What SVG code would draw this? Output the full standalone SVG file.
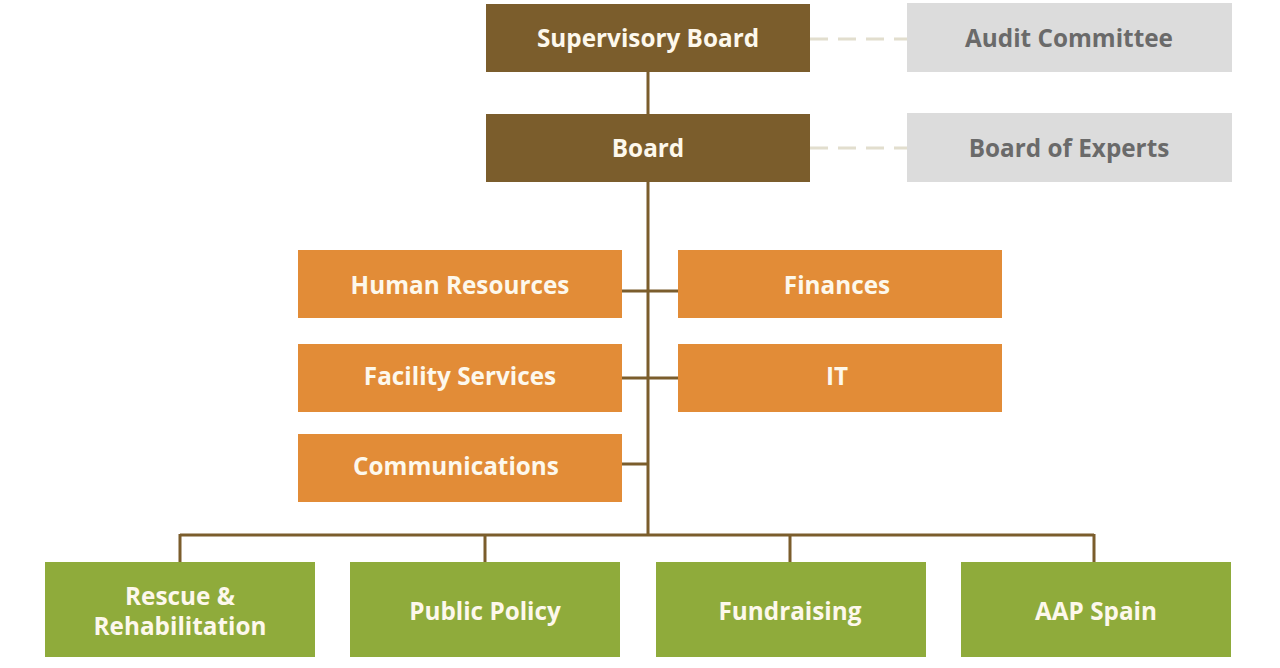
<svg xmlns="http://www.w3.org/2000/svg" width="1280" height="668" viewBox="0 0 1280 668">
<style>
.t{font-family:"Open Sans","Noto Sans","Liberation Sans",sans-serif;font-weight:700;font-size:24.3px;text-anchor:middle;dominant-baseline:central}
.w{fill:#fdf8ec}
.g{fill:#6a6a6a}
.brown{fill:#7b5d2c}
.orange{fill:#e28c37}
.green{fill:#8fab3b}
.gray{fill:#dcdcdc}
.ln{stroke:#7b5d2c;stroke-width:3;fill:none}
.dash{stroke:#e2dece;stroke-width:3;fill:none;stroke-dasharray:18 10}
</style>
<rect width="1280" height="668" fill="#ffffff"/>
<g id="connectors">
<path class="ln" d="M648 72V114M648 182V535M180 535H1094M180 534V562M485 534V562M790 534V562M1094 534V562M622 291H678M622 378H678M622 464H648"/>
<path class="dash" d="M810 39H907M810 148H907"/>
</g>
<g id="supervisory-board"><rect class="brown" x="486" y="4" width="324" height="68"/><text class="t w" x="648" y="37">Supervisory Board</text></g>
<g id="board"><rect class="brown" x="486" y="114" width="324" height="68"/><text class="t w" x="648" y="147">Board</text></g>
<g id="audit-committee"><rect class="gray" x="907" y="3" width="325" height="69"/><text class="t g" x="1069" y="37">Audit Committee</text></g>
<g id="board-of-experts"><rect class="gray" x="907" y="113" width="325" height="69"/><text class="t g" x="1069" y="147">Board of Experts</text></g>
<g id="human-resources"><rect class="orange" x="298" y="250" width="324" height="68"/><text class="t w" x="460" y="284">Human Resources</text></g>
<g id="finances"><rect class="orange" x="678" y="250" width="324" height="68"/><text class="t w" x="837" y="284">Finances</text></g>
<g id="facility-services"><rect class="orange" x="298" y="344" width="324" height="68"/><text class="t w" x="460" y="375">Facility Services</text></g>
<g id="it"><rect class="orange" x="678" y="344" width="324" height="68"/><text class="t w" x="837" y="375">IT</text></g>
<g id="communications"><rect class="orange" x="298" y="434" width="324" height="68"/><text class="t w" x="456" y="465">Communications</text></g>
<g id="rescue"><rect class="green" x="45" y="562" width="270" height="95"/><text class="t w" x="180" y="595">Rescue &amp;</text><text class="t w" x="180" y="625">Rehabilitation</text></g>
<g id="public-policy"><rect class="green" x="350" y="562" width="270" height="95"/><text class="t w" x="485" y="610">Public Policy</text></g>
<g id="fundraising"><rect class="green" x="656" y="562" width="270" height="95"/><text class="t w" x="790" y="610">Fundraising</text></g>
<g id="aap-spain"><rect class="green" x="961" y="562" width="270" height="95"/><text class="t w" x="1096" y="610">AAP Spain</text></g>
</svg>
